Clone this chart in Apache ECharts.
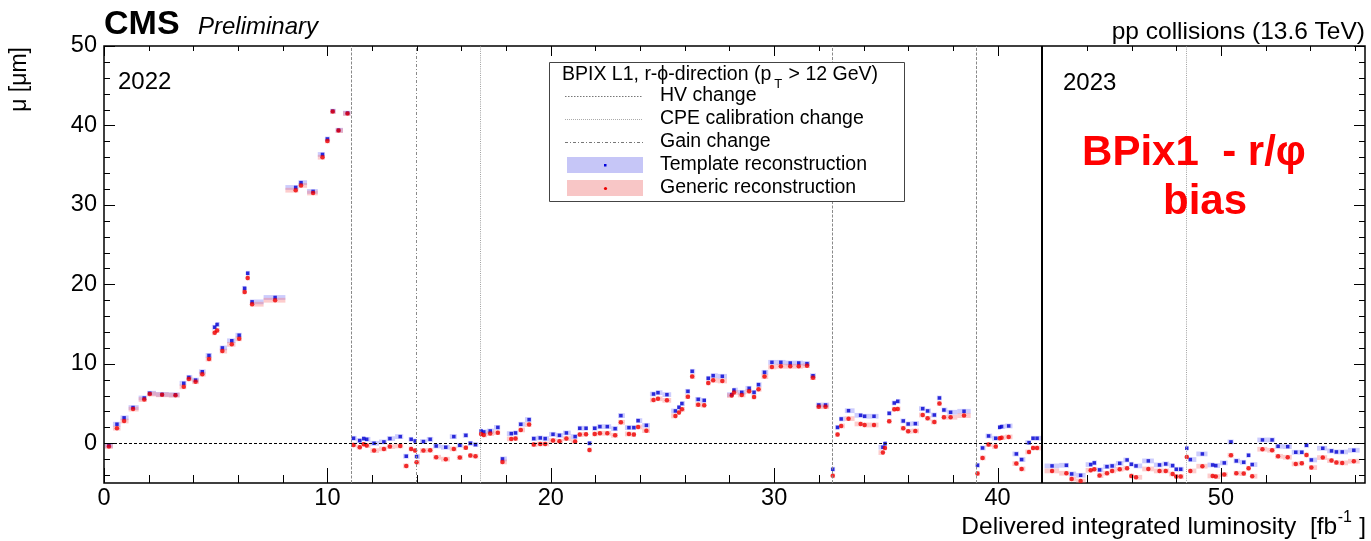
<!DOCTYPE html>
<html><head><meta charset="utf-8">
<script src="https://cdn.jsdelivr.net/npm/echarts@6/dist/echarts.min.js"></script>
<style>html,body{margin:0;padding:0;background:#fff}#c{width:1371px;height:541px}</style>
</head><body><div id="c"></div>
<script>
// ---------- data ----------
const lumi = [
  0.22, 0.58, 0.90, 1.30, 1.80, 2.05, 2.60, 3.20, 3.57, 3.80,
  4.10, 4.40, 4.70, 4.96, 5.06, 5.30, 5.72, 6.05, 6.30, 6.43,
  6.63, 7.66, 8.58, 8.82, 9.36, 9.78, 10.00, 10.24, 10.50, 10.90,
  11.17, 11.45, 11.63, 11.76, 12.09, 12.53, 12.80, 13.26, 13.53, 13.75,
  13.93, 13.99, 14.30, 14.60, 14.87, 15.30, 15.66, 15.93, 16.20, 16.40,
  16.63,
  16.88, 17.00, 17.29, 17.63, 17.84, 18.23, 18.42, 18.66, 19.03, 19.24,
  19.53, 19.75, 20.10, 20.39, 20.70, 21.09, 21.30, 21.58, 21.73, 21.97,
  22.20, 22.53, 22.88, 23.14, 23.50, 23.72, 23.91, 24.28, 24.60, 24.80,
  25.20, 25.58, 25.74, 25.87, 26.14, 26.33, 26.60, 26.87, 27.05, 27.27,
  27.68, 28.10, 28.20, 28.55, 28.88, 29.10, 29.30, 29.57, 29.90, 30.30,
  30.72, 31.10, 31.47, 31.74, 32.00, 32.30,
  32.62, 32.84, 33.00, 33.33, 33.87, 34.05, 34.47, 34.87, 34.96, 35.15,
  35.38, 35.53, 35.78, 36.00, 36.32, 36.65, 36.87, 37.17, 37.40, 37.60,
  37.90, 38.50,
  39.10, 39.33, 39.60, 39.92, 40.10, 40.18, 40.50, 40.84, 41.08, 41.41,
  41.59, 41.77,
  42.44, 43.08, 43.32, 43.72, 44.17, 44.33, 44.57, 44.90, 45.13, 45.47,
  45.80, 45.99, 46.20, 46.75, 47.25, 47.53, 47.84, 48.00, 48.20,
  48.47, 48.63, 49.17, 49.63, 49.77, 50.15, 50.45, 50.69, 51.02, 51.24,
  51.40, 51.86, 52.29, 52.56, 52.99, 53.35, 53.62, 53.83, 54.05, 54.56,
  54.95, 55.17, 55.43, 55.95
];
const template = [
  -0.3, 2.4, 3.2, 4.5, 5.7, 6.3, 6.15, 6.1, 7.55, 8.3,
  7.95, 9.0, 11.05, 14.6, 14.95, 12.0, 12.9, 13.6, 19.5, 21.4,
  17.8, 18.35, 32.2, 32.8, 31.7, 36.35, 38.3, 41.8, 39.4, 41.55,
  0.63, 0.34, 0.59, 0.5, 0.0, 0.17, 0.59, 0.84, -1.63, 0.5,
  0.29, -1.67, 0.21, 0.5, -0.34, -0.5, 0.84, -0.25, 1.0, 0.0,
  -0.17,
  1.55, 1.43, 1.55, 2.0, -1.97, 1.22, 1.3, 2.39, 2.98, 0.59,
  0.67, 0.59, 1.13, 1.0, 1.3, 0.84, 1.89, 1.89, 0.0, 1.89,
  2.1, 2.1, 1.84, 3.48, 1.97, 1.97, 2.85, 2.26, 6.2, 6.37,
  6.12, 4.07, 4.53, 5.0, 6.54, 9.06, 5.53, 5.4, 8.18, 8.51,
  8.43, 6.12, 6.7, 6.41, 6.92, 6.41, 7.38, 8.93, 10.19, 10.19,
  10.1, 10.1, 10.02, 8.5, 4.82, 4.82,
  -3.27, 2.0, 3.06, 4.1, 3.52, 3.4, 3.4, -0.5, -0.04, 3.77,
  5.07, 5.28, 2.81, 2.43, 2.47, 4.36, 4.07, 3.56, 5.7, 4.19,
  3.9, 4.03,
  -2.77, -0.59, 0.92, 0.63, 2.01, 2.1, 2.18, -1.34, -2.05, 0.08,
  0.63, 0.63,
  -2.85, -2.77, -3.86, -4.03, -2.68, -2.47, -3.35, -2.94, -2.85, -2.52,
  -2.1, -2.64, -2.85, -2.22, -2.73, -2.6, -2.81, -3.27, -3.27,
  -0.63, -2.05, -1.34, -2.73, -2.81, -2.47, 0.17, -2.22, -2.39, -1.51,
  -2.68, 0.42, 0.42, -0.38, -0.42, -1.13, -1.13, -0.25, -2.1, -0.63,
  -0.96, -1.09, -1.09, -0.88
];
const generic = [
  -0.4, 1.9, 2.8, 4.3, 5.5, 6.2, 6.1, 6.05, 7.1, 8.1,
  7.75, 8.7, 10.6, 13.9, 14.2, 11.6, 12.45, 13.15, 19.05, 20.8,
  17.5, 18.0, 31.85, 32.45, 31.5, 36.0, 38.05, 41.75, 39.35, 41.5,
  -0.21, -0.5, -0.13, -0.29, -0.92, -0.71, -0.42, -0.34, -2.85, -0.71,
  -0.92, -2.39, -0.92, -0.88, -1.76, -2.0, -0.71, -1.8, -0.55, -1.55,
  -1.63,
  1.17, 1.05, 1.22, 1.34, -2.35, 0.55, 0.59, 1.68, 2.35, -0.17,
  -0.08, -0.08, 0.34, 0.25, 0.59, 0.21, 1.09, 1.13, -0.84, 1.17,
  1.26, 1.26, 1.0, 2.64, 1.17, 1.09, 2.05, 1.59, 5.45, 5.6,
  5.4, 3.44, 3.86, 4.28, 5.87, 8.39, 4.86, 4.78, 7.59, 7.92,
  7.84, 6.0, 6.4, 6.08, 6.54, 5.83, 6.79, 8.39, 9.6, 9.69,
  9.69, 9.69, 9.77, 8.26, 4.6, 4.6,
  -4.1, 1.09, 2.18, 3.1, 2.43, 2.3, 2.3, -1.17, -0.59, 2.77,
  4.28, 4.32, 1.89, 1.51, 1.55, 3.56, 3.14, 2.68, 4.99, 3.27,
  3.27, 3.48,
  -3.8, -1.84, -0.17, -0.42, 0.63, 0.71, 0.8, -2.56, -3.23, -1.09,
  -0.59, -0.59,
  -3.48, -3.77, -4.49, -4.74, -3.4, -3.27, -4.07, -3.77, -3.48, -3.27,
  -3.14, -4.11, -4.28, -3.23, -3.48, -3.48, -3.86, -4.19, -4.19,
  -1.72, -3.48, -2.89, -4.11, -4.19, -3.94, -1.51, -3.77, -3.82, -3.14,
  -4.15, -0.75, -0.88, -1.64, -1.76, -2.6, -2.52, -1.47, -3.06, -1.8,
  -2.18, -2.43, -2.47, -2.26
];
const hvChange = [11.06, 32.6, 39.05];
const gainChange = [13.97];
const cpeChange = [16.84, 48.45];
const yearBoundary = 41.96;
const xTicks = [0,2,4,6,8,10,12,14,16,18,20,22,24,26,28,30,32,34,36,38,40,42,44,46,48,50,52,54,56];
const yTicks = [-4,-2,0,2,4,6,8,10,12,14,16,18,20,22,24,26,28,30,32,34,36,38,40,42,44,46,48,50];
const xMin = 0, xMax = 56.45, yMin = -5, yMax = 50;

// ---------- helpers ----------
const FONT = '"Liberation Sans", Arial, Helvetica, sans-serif';
const BOX_H = 0.3;
const boundaries = hvChange.concat(gainChange, cpeChange, [yearBoundary]);
function boxes(vals) {
  return lumi.map((x, i) => {
    const prev = lumi[i - 1], next = lumi[i + 1];
    let lo = prev !== undefined ? (prev + x) / 2 : x - (next - x) / 2;
    let hi = next !== undefined ? (x + next) / 2 : x + (x - prev) / 2;
    boundaries.forEach(b => { if (b <= x && b > lo) lo = b; if (b >= x && b < hi) hi = b; });
    return [lo, hi, vals[i]];
  });
}
function boxSeries(vals, color) {
  return {
    type: 'custom', z: 1, clip: true, silent: true,
    encode: { x: [0, 1], y: 2 },
    data: boxes(vals),
    renderItem: (params, api) => {
      const p1 = api.coord([api.value(0), api.value(2) + BOX_H]);
      const p2 = api.coord([api.value(1), api.value(2) - BOX_H]);
      return { type: 'rect', shape: { x: p1[0], y: p1[1], width: p2[0] - p1[0], height: p2[1] - p1[1] },
               style: { fill: color } };
    }
  };
}
const mctx = document.createElement('canvas').getContext('2d');
function tw(text, size, weight, style) {
  mctx.font = (style || '') + ' ' + (weight || '') + ' ' + size + 'px ' + FONT;
  return mctx.measureText(text).width;
}
function txt(text, x, y, size, opts) {
  opts = opts || {};
  return { type: 'text', x: x, y: y, rotation: opts.rotation || 0, z: 100, silent: true,
    style: { text: text, fill: opts.fill || '#000', fontSize: size, fontFamily: FONT,
      fontWeight: opts.weight || 'normal', fontStyle: opts.style || 'normal',
      align: opts.align || 'left', verticalAlign: 'middle' } };
}

const vLines = [];
hvChange.forEach(v => vLines.push({ xAxis: v, lineStyle: { color: '#8a8a8a', type: [3, 1.5], width: 1 } }));
gainChange.forEach(v => vLines.push({ xAxis: v, lineStyle: { color: '#8a8a8a', type: [3, 2, 1, 2], width: 1 } }));
cpeChange.forEach(v => vLines.push({ xAxis: v, lineStyle: { color: '#a0a0a0', type: [1, 1.2], width: 1 } }));
vLines.push({ xAxis: yearBoundary, lineStyle: { color: '#000', type: 'solid', width: 2 } });
vLines.push({ yAxis: 0, lineStyle: { color: '#000', type: [3, 2], width: 1 } });

// ---------- graphic texts ----------
const g = [];
g.push(txt('CMS', 104, 25, 34, { weight: 'bold' }));
g.push(txt('Preliminary', 198, 27, 24, { style: 'italic' }));
g.push(txt('pp collisions (13.6 TeV)', 1365, 32, 24.5, { align: 'right' }));
g.push(txt('2022', 118, 82, 24));
g.push(txt('2023', 1063, 83, 24));
g.push(txt('BPix1  - r/φ', 1194, 153, 42, { weight: 'bold', fill: '#ff0000', align: 'center' }));
g.push(txt('bias', 1205, 202, 42, { weight: 'bold', fill: '#ff0000', align: 'center' }));
g.push(txt('μ [μm]', 20, 47, 23, { rotation: Math.PI / 2, align: 'right' }));
// x-axis title with superscript
(function () {
  const a = 'Delivered integrated luminosity  [fb', s = '-1', c = ' ]';
  const wa = tw(a, 24.5), ws = tw(s, 16), wc = tw(c, 24.5);
  const x0 = 1366 - (wa + ws + wc + 1);
  g.push(txt(a, x0, 527, 24.5));
  g.push(txt(s, x0 + wa + 0.5, 518, 16));
  g.push(txt(c, x0 + wa + ws + 1, 527, 24.5));
})();
// legend box
g.push({ type: 'rect', z: 90, silent: true, shape: { x: 549.5, y: 62.5, width: 355, height: 139 },
  style: { fill: '#fff', stroke: '#444', lineWidth: 1 } });
(function () {
  const a = 'BPIX L1, r-ϕ-direction (p', s = 'T', c = ' > 12 GeV)';
  const wa = tw(a, 19.5), ws = tw(s, 13);
  g.push(txt(a, 562, 75, 19.5));
  g.push(txt(s, 562 + wa + 3, 84, 13));
  g.push(txt(c, 562 + wa + ws + 4, 75, 19.5));
})();
const legRows = [
  ['HV change', 96, { stroke: '#777', lineDash: [1.5, 1.5] }],
  ['CPE calibration change', 119, { stroke: '#aaa', lineDash: [1, 1] }],
  ['Gain change', 142, { stroke: '#777', lineDash: [3, 2, 1, 2] }]
];
legRows.forEach(r => {
  g.push({ type: 'line', z: 100, silent: true, shape: { x1: 565, y1: r[1] + 0.5, x2: 643, y2: r[1] + 0.5 },
    style: Object.assign({ lineWidth: 1 }, r[2]) });
  g.push(txt(r[0], 660, r[1], 19.5));
});
g.push({ type: 'rect', z: 100, silent: true, shape: { x: 567, y: 157, width: 76, height: 16 }, style: { fill: '#c6c6f7' } });
g.push({ type: 'rect', z: 101, silent: true, shape: { x: 604, y: 164, width: 2.5, height: 2.5 }, style: { fill: '#0000dd' } });
g.push(txt('Template reconstruction', 660, 165, 19.5));
g.push({ type: 'rect', z: 100, silent: true, shape: { x: 567, y: 180, width: 76, height: 16 }, style: { fill: '#f8c6c6' } });
g.push({ type: 'circle', z: 101, silent: true, shape: { cx: 605.5, cy: 188.5, r: 1.6 }, style: { fill: '#ee0000' } });
g.push(txt('Generic reconstruction', 660, 188, 19.5));

// ---------- tick rendering ----------
function tickRender(isX) {
  return (params, api) => {
    const cs = params.coordSys;
    const v = isX ? api.value(0) : api.value(1);
    const major = Math.abs(v % 10) < 1e-9;
    const st = { stroke: '#000', lineWidth: 1 };
    if (isX) {
      const px = Math.round(api.coord([v, 0])[0]) + 0.5;
      const lb = major ? 15 : 8, lt = major ? 10 : 5;
      return { type: 'group', children: [
        { type: 'line', shape: { x1: px, y1: cs.y + cs.height, x2: px, y2: cs.y + cs.height - lb }, style: st },
        { type: 'line', shape: { x1: px, y1: cs.y, x2: px, y2: cs.y + lt }, style: st } ] };
    } else {
      const py = Math.round(api.coord([0, v])[1]) + 0.5;
      const l = major ? 11 : 6;
      return { type: 'group', children: [
        { type: 'line', shape: { x1: cs.x, y1: py, x2: cs.x + l, y2: py }, style: st },
        { type: 'line', shape: { x1: cs.x + cs.width, y1: py, x2: cs.x + cs.width - l, y2: py }, style: st } ] };
    }
  };
}

const chart = echarts.init(document.getElementById('c'), null, { renderer: 'canvas' });
chart.setOption({
  animation: false,
  backgroundColor: '#fff',
  grid: { left: 104, right: 6, top: 46, bottom: 58, show: true, borderColor: '#000', borderWidth: 1.5, backgroundColor: 'transparent' },
  xAxis: {
    type: 'value', min: xMin, max: xMax, interval: 10,
    axisLine: { show: false }, axisTick: { show: false }, splitLine: { show: false },
    axisLabel: { fontSize: 23.5, color: '#000', fontFamily: FONT, margin: 4,
      formatter: v => (Math.abs(v % 10) < 1e-9 ? String(v) : '') }
  },
  yAxis: {
    type: 'value', min: yMin, max: yMax, splitNumber: 5,
    axisLine: { show: false }, axisTick: { show: false }, splitLine: { show: false },
    axisLabel: { fontSize: 23.5, color: '#000', fontFamily: FONT, margin: 7,
      formatter: v => (Math.abs(v % 10) < 1e-9 ? String(v) : '') }
  },
  graphic: g,
  series: [
    boxSeries(template, 'rgba(110,110,250,0.35)'),
    boxSeries(generic, 'rgba(250,110,110,0.35)'),
    { name: 'Template reconstruction', type: 'scatter', z: 3, symbol: 'rect', symbolSize: 3.5,
      itemStyle: { color: '#0000d0' }, data: lumi.map((x, i) => [x, template[i]]) },
    { name: 'Generic reconstruction', type: 'scatter', z: 4, symbol: 'circle', symbolSize: 4.5,
      itemStyle: { color: '#ee0000' }, data: lumi.map((x, i) => [x, generic[i]]),
      markLine: { silent: true, symbol: ['none', 'none'], label: { show: false }, animation: false, data: vLines } },
    { type: 'custom', z: 6, clip: false, silent: true, encode: { x: 0, y: 1 },
      data: xTicks.map(v => [v, 0]), renderItem: tickRender(true) },
    { type: 'custom', z: 6, clip: false, silent: true, encode: { x: 0, y: 1 },
      data: yTicks.map(v => [0, v]), renderItem: tickRender(false) }
  ]
});
</script>
</body></html>
